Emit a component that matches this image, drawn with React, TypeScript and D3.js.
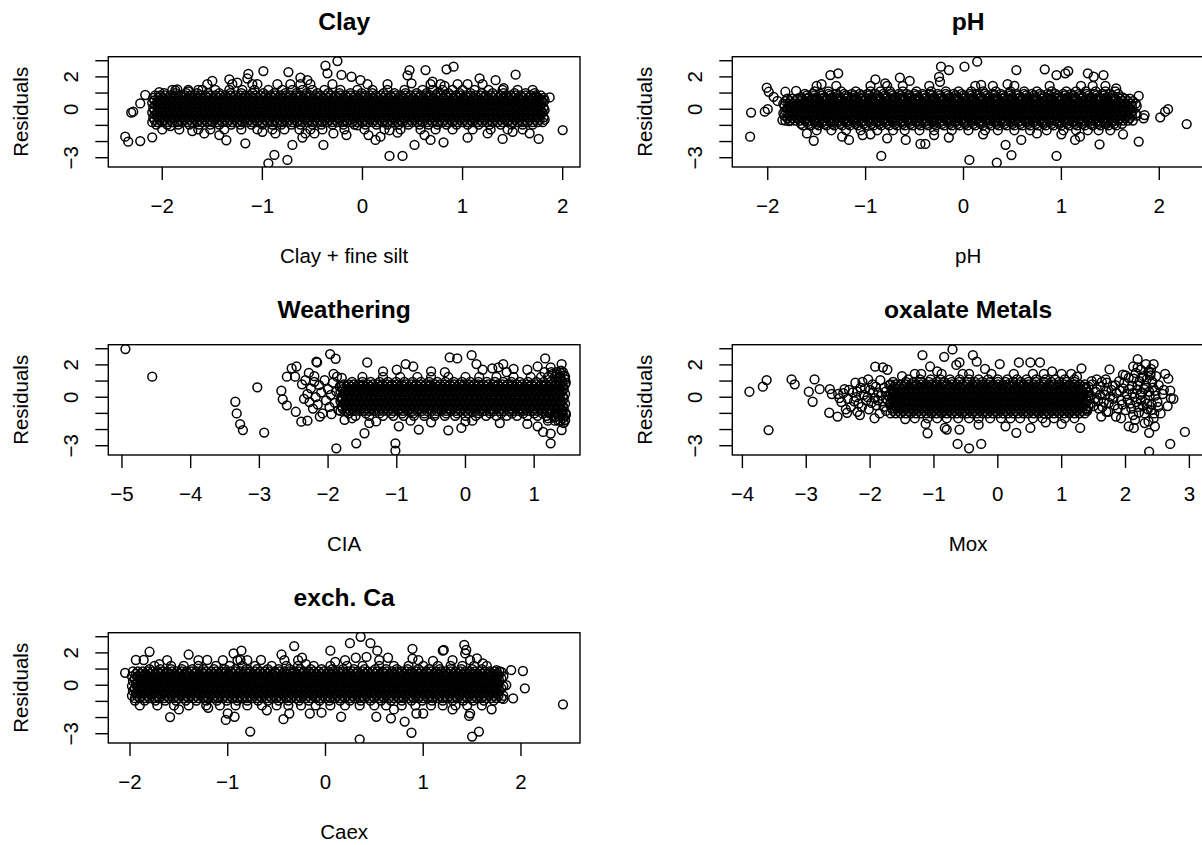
import React from "react";
import * as d3 from "d3";

type Pt = [number, number];
const pairs = (s: string): Pt[] =>
  s.trim().split(/\s+/).map((p) => {
    const [a, b] = p.split(",").map(Number);
    return [a, b] as Pt;
  });
const rows = (r: [number, string][]): Pt[] =>
  r.flatMap(([y, xs]) => xs.trim().split(/\s+/).map((x) => [Number(x), y] as Pt));

// ---------- axis ticks ----------
const yTicks = [-3, -2, -1, 0, 1, 2, 3];
const yTickLabels = [-3, 0, 2];
const clayTicks = [-2, -1, 0, 1, 2];
const phTicks = [-2, -1, 0, 1, 2];
const ciaTicks = [-5, -4, -3, -2, -1, 0, 1];
const moxTicks = [-4, -3, -2, -1, 0, 1, 2, 3];
const caexTicks = [-2, -1, 0, 1, 2];

// ---------- Clay ----------
const clayOutliers = pairs(`
-2.37,-1.70 -2.34,-2.01 -2.22,-1.97 -2.10,-1.74 -2.31,-0.21 -2.29,-0.15 -2.22,0.36 -2.17,0.88 -2.03,1.05 -1.85,1.23
-1.92,-1.04 -1.17,-2.11 -1.36,-1.92 -0.99,2.36 -1.14,2.18 -0.94,-3.35 -0.88,-2.83 -0.75,-3.14 -0.70,-2.21 -0.74,2.30
-0.37,2.69 -0.25,2.98 -0.35,2.22 -0.21,2.12 -0.11,2.01 -0.39,-2.21 -0.29,-1.50 -0.02,1.80 0.27,-2.89 0.40,-2.89
0.52,-2.21 0.47,2.42 0.45,2.10 0.63,2.42 0.84,2.47 0.91,2.63 0.49,1.60 1.17,1.91 1.33,1.80 1.53,2.14 1.87,0.73
2.00,-1.29 1.76,-1.84 1.67,-1.49 1.40,-1.84 1.05,-1.76 0.81,-2.05 0.68,-1.90 1.74,0.77 1.79,0.57 1.79,-0.20 1.65,0.35
1.41,1.30 0.06,-1.60 0.13,-1.90 0.18,-1.70 0.27,-1.30 -0.16,-1.60 -0.05,-1.00 -1.33,1.85 -1.50,1.75 -1.64,1.20
-1.87,1.17 -1.74,1.10 -1.15,1.90 -1.58,-1.50 -1.43,-1.60 -0.87,-1.50 -0.57,-1.50 -0.48,-1.50 -0.62,1.95 -0.55,1.80
-1.25,1.65 -1.05,1.55 0.70,1.70 0.82,1.45 1.05,1.55 -1.70,-1.35 -1.00,-1.40 -0.60,-1.75 0.35,-1.45 0.62,-1.60
1.25,-1.50 1.50,-1.40
`);
const clayA = "-2.1 -2.05 -2 -1.95 -1.9 -1.85 -1.8 -1.75 -1.7 -1.65 -1.6 -1.55 -1.5 -1.45 -1.4 -1.35 -1.3 -1.25 -1.2 -1.15 -1.1 -1.05 -1 -0.95 -0.9 -0.85 -0.8 -0.75 -0.7 -0.65 -0.6 -0.55 -0.5 -0.45 -0.4 -0.35 -0.3 -0.25 -0.2 -0.15 -0.1 -0.05 0 0.05 0.1 0.15 0.2 0.25 0.3 0.35 0.4 0.45 0.5 0.55 0.6 0.65 0.7 0.75 0.8 0.85 0.9 0.95 1 1.05 1.1 1.15 1.2 1.25 1.3 1.35 1.4 1.45 1.5 1.55 1.6 1.65 1.7 1.75 1.8";
const clayB = "-2.08 -2.03 -1.98 -1.93 -1.88 -1.83 -1.78 -1.73 -1.68 -1.63 -1.58 -1.53 -1.48 -1.43 -1.38 -1.33 -1.28 -1.23 -1.18 -1.13 -1.08 -1.03 -0.98 -0.93 -0.88 -0.83 -0.78 -0.73 -0.68 -0.63 -0.58 -0.53 -0.48 -0.43 -0.38 -0.33 -0.28 -0.23 -0.18 -0.13 -0.08 -0.03 0.02 0.07 0.12 0.17 0.22 0.27 0.32 0.37 0.42 0.47 0.52 0.57 0.62 0.67 0.72 0.77 0.82 0.87 0.92 0.97 1.02 1.07 1.12 1.17 1.22 1.27 1.32 1.37 1.42 1.47 1.52 1.57 1.62 1.67 1.72 1.77 1.82";
const clayC = "-2.09 -2.04 -1.99 -1.94 -1.89 -1.84 -1.79 -1.74 -1.69 -1.64 -1.59 -1.54 -1.49 -1.44 -1.39 -1.34 -1.29 -1.24 -1.19 -1.14 -1.09 -1.04 -0.99 -0.94 -0.89 -0.84 -0.79 -0.74 -0.69 -0.64 -0.59 -0.54 -0.49 -0.44 -0.39 -0.34 -0.29 -0.24 -0.19 -0.14 -0.09 -0.04 0.01 0.06 0.11 0.16 0.21 0.26 0.31 0.36 0.41 0.46 0.51 0.56 0.61 0.66 0.71 0.76 0.81 0.86 0.91 0.96 1.01 1.06 1.11 1.16 1.21 1.26 1.31 1.36 1.41 1.46 1.51 1.56 1.61 1.66 1.71 1.76 1.81";
const clayD = "-2.07 -2.02 -1.97 -1.92 -1.87 -1.82 -1.77 -1.72 -1.67 -1.62 -1.57 -1.52 -1.47 -1.42 -1.37 -1.32 -1.27 -1.22 -1.17 -1.12 -1.07 -1.02 -0.97 -0.92 -0.87 -0.82 -0.77 -0.72 -0.67 -0.62 -0.57 -0.52 -0.47 -0.42 -0.37 -0.32 -0.27 -0.22 -0.17 -0.12 -0.07 -0.02 0.03 0.08 0.13 0.18 0.23 0.28 0.33 0.38 0.43 0.48 0.53 0.58 0.63 0.68 0.73 0.78 0.83 0.88 0.93 0.98 1.03 1.08 1.13 1.18 1.23 1.28 1.33 1.38 1.43 1.48 1.53 1.58 1.63 1.68 1.73 1.78";
const clayCore = rows([
  [-1.25, "-2.0 -1.83 -1.64 -1.52 -1.38 -1.21 -1.05 -0.9 -0.78 -0.63 -0.52 -0.4 -0.18 0.02 0.22 0.38 0.58 0.73 0.9 1.1 1.28 1.45 1.6"],
  [-0.95, "-2.06 -1.95 -1.84 -1.73 -1.63 -1.52 -1.43 -1.31 -1.22 -1.11 -1.0 -0.9 -0.81 -0.71 -0.62 -0.5 -0.41 -0.3 -0.19 -0.08 0.03 0.14 0.25 0.36 0.46 0.57 0.66 0.75 0.84 0.94 1.05 1.16 1.27 1.38 1.49 1.6 1.7"],
  [-0.8, clayA],
  [-0.65, clayB],
  [-0.5, clayC],
  [-0.35, clayD],
  [-0.2, clayA],
  [-0.05, clayB],
  [0.1, clayC],
  [0.25, clayD],
  [0.4, clayA],
  [0.55, clayB],
  [0.7, clayC],
  [0.85, clayD],
  [1.0, "-1.98 -1.87 -1.76 -1.65 -1.54 -1.43 -1.32 -1.21 -1.1 -0.99 -0.88 -0.77 -0.66 -0.56 -0.45 -0.34 -0.23 -0.12 -0.01 0.1 0.21 0.32 0.43 0.54 0.64 0.75 0.86 0.97 1.08 1.19 1.3 1.41 1.52 1.63 1.72"],
  [1.2, "-1.9 -1.74 -1.6 -1.47 -1.33 -1.2 -1.08 -0.94 -0.8 -0.7 -0.6 -0.5 -0.38 -0.22 -0.05 0.1 0.25 0.42 0.6 0.7 0.8 0.9 1.0 1.12 1.26 1.4 1.55 1.7"],
  [1.55, "-1.55 -1.3 -1.1 -0.85 -0.72 -0.62 -0.52 -0.3 0.05 0.25 0.68 0.78 0.95 1.2"],
]);

// ---------- pH ----------
const phOutliers = pairs(`
-2.17,-0.21 -2.18,-1.70 -2.01,1.33 -1.99,1.08 -2.03,-0.15 -2.00,0.00 -1.90,0.51 -1.94,0.77 -1.82,1.08 -1.71,1.14
-1.85,-0.67 -1.78,-0.73 -1.53,-1.95 -1.36,2.11 -1.28,2.22 -1.24,-1.70 -1.17,-1.90 -1.03,-1.60 -0.84,-2.89 -0.78,-1.80
-0.59,-1.90 -0.44,-2.15 -0.39,-2.15 -0.23,2.63 -0.15,2.42 -0.25,2.00 -0.24,1.70 0.01,2.63 0.14,2.94 0.06,-3.14
0.34,-3.31 0.49,-2.84 0.43,-2.20 0.59,-1.90 0.54,2.42 0.83,2.47 0.95,2.11 1.04,2.22 1.07,2.36 1.27,2.22 1.33,2.01
1.43,2.11 0.95,-2.89 1.39,-2.17 1.14,-1.90 1.19,-1.70 1.63,-1.55 1.79,-2.00 1.79,0.82 1.85,-0.36 1.84,-0.56 2.01,-0.50
2.06,-0.15 2.09,0.00 2.28,-0.92 1.56,1.29 -0.90,1.85 -0.65,1.95 -0.55,1.75 -0.80,1.60 0.18,1.50 0.45,1.55 -1.45,1.55
-1.60,-1.50 -0.95,-1.55 -0.30,-1.60 0.20,-1.55 0.75,-1.50 1.00,-1.55 -0.15,-1.75
`);
const phA = "-1.8 -1.75 -1.7 -1.65 -1.6 -1.55 -1.5 -1.45 -1.4 -1.35 -1.3 -1.25 -1.2 -1.15 -1.1 -1.05 -1 -0.95 -0.9 -0.85 -0.8 -0.75 -0.7 -0.65 -0.6 -0.55 -0.5 -0.45 -0.4 -0.35 -0.3 -0.25 -0.2 -0.15 -0.1 -0.05 0 0.05 0.1 0.15 0.2 0.25 0.3 0.35 0.4 0.45 0.5 0.55 0.6 0.65 0.7 0.75 0.8 0.85 0.9 0.95 1 1.05 1.1 1.15 1.2 1.25 1.3 1.35 1.4 1.45 1.5 1.55 1.6 1.65 1.7";
const phB = "-1.83 -1.78 -1.73 -1.68 -1.63 -1.58 -1.53 -1.48 -1.43 -1.38 -1.33 -1.28 -1.23 -1.18 -1.13 -1.08 -1.03 -0.98 -0.93 -0.88 -0.83 -0.78 -0.73 -0.68 -0.63 -0.58 -0.53 -0.48 -0.43 -0.38 -0.33 -0.28 -0.23 -0.18 -0.13 -0.08 -0.03 0.02 0.07 0.12 0.17 0.22 0.27 0.32 0.37 0.42 0.47 0.52 0.57 0.62 0.67 0.72 0.77 0.82 0.87 0.92 0.97 1.02 1.07 1.12 1.17 1.22 1.27 1.32 1.37 1.42 1.47 1.52 1.57 1.62 1.67 1.72 1.77";
const phC = "-1.84 -1.79 -1.74 -1.69 -1.64 -1.59 -1.54 -1.49 -1.44 -1.39 -1.34 -1.29 -1.24 -1.19 -1.14 -1.09 -1.04 -0.99 -0.94 -0.89 -0.84 -0.79 -0.74 -0.69 -0.64 -0.59 -0.54 -0.49 -0.44 -0.39 -0.34 -0.29 -0.24 -0.19 -0.14 -0.09 -0.04 0.01 0.06 0.11 0.16 0.21 0.26 0.31 0.36 0.41 0.46 0.51 0.56 0.61 0.66 0.71 0.76 0.81 0.86 0.91 0.96 1.01 1.06 1.11 1.16 1.21 1.26 1.31 1.36 1.41 1.46 1.51 1.56 1.61 1.66 1.71 1.76";
const phD = "-1.82 -1.77 -1.72 -1.67 -1.62 -1.57 -1.52 -1.47 -1.42 -1.37 -1.32 -1.27 -1.22 -1.17 -1.12 -1.07 -1.02 -0.97 -0.92 -0.87 -0.82 -0.77 -0.72 -0.67 -0.62 -0.57 -0.52 -0.47 -0.42 -0.37 -0.32 -0.27 -0.22 -0.17 -0.12 -0.07 -0.02 0.03 0.08 0.13 0.18 0.23 0.28 0.33 0.38 0.43 0.48 0.53 0.58 0.63 0.68 0.73 0.78 0.83 0.88 0.93 0.98 1.03 1.08 1.13 1.18 1.23 1.28 1.33 1.38 1.43 1.48 1.53 1.58 1.63 1.68 1.73";
const phAt = "-1.64 -1.56 -1.48 -1.4 -1.32 -1.24 -1.16 -1.08 -1 -0.92 -0.84 -0.76 -0.68 -0.6 -0.52 -0.44 -0.36 -0.28 -0.2 -0.12 -0.04 0.04 0.12 0.2 0.28 0.36 0.44 0.52 0.6 0.68 0.76 0.84 0.92 1 1.08 1.16 1.24 1.32 1.4 1.48 1.56";
const phBt = "-1.6 -1.52 -1.44 -1.36 -1.28 -1.2 -1.12 -1.04 -0.96 -0.88 -0.8 -0.72 -0.64 -0.56 -0.48 -0.4 -0.32 -0.24 -0.16 -0.08 0 0.08 0.16 0.24 0.32 0.4 0.48 0.56 0.64 0.72 0.8 0.88 0.96 1.04 1.12 1.2 1.28 1.36 1.44 1.52";
const phCt = "-1.66 -1.58 -1.5 -1.42 -1.34 -1.26 -1.18 -1.1 -1.02 -0.94 -0.86 -0.78 -0.7 -0.62 -0.54 -0.46 -0.38 -0.3 -0.22 -0.14 -0.06 0.02 0.1 0.18 0.26 0.34 0.42 0.5 0.58 0.66 0.74 0.82 0.9 0.98 1.06 1.14 1.22 1.3 1.38 1.46 1.54 1.62";
const phDt = "-1.62 -1.54 -1.46 -1.38 -1.3 -1.22 -1.14 -1.06 -0.98 -0.9 -0.82 -0.74 -0.66 -0.58 -0.5 -0.42 -0.34 -0.26 -0.18 -0.1 -0.02 0.06 0.14 0.22 0.3 0.38 0.46 0.54 0.62 0.7 0.78 0.86 0.94 1.02 1.1 1.18 1.26 1.34 1.42 1.5 1.58";
const phCore = rows([
  [-1.3, "-1.5 -1.35 -1.2 -1.05 -0.88 -0.72 -0.6 -0.45 -0.3 -0.12 0.05 0.22 0.35 0.52 0.68 0.85 1.02 1.15 1.27 1.38 1.5"],
  [-1.0, phAt],
  [-0.9, phCt],
  [-0.8, phBt],
  [-0.7, phD],
  [-0.55, phA],
  [-0.4, phB],
  [-0.25, phC],
  [-0.1, phD],
  [0.05, phA],
  [0.2, phB],
  [0.35, phC],
  [0.5, phD],
  [0.65, phA],
  [0.75, phCt],
  [0.85, phBt],
  [0.95, phDt],
  [1.1, "-1.52 -1.38 -1.25 -1.1 -0.95 -0.85 -0.75 -0.62 -0.48 -0.33 -0.18 -0.05 0.08 0.2 0.33 0.48 0.62 0.75 0.9 1.05 1.15 1.25 1.35 1.45 1.55"],
  [1.45, "-1.5 -1.3 -0.95 -0.78 -0.62 -0.35 0.12 0.3 0.52 0.88 1.2 1.32 1.45"],
]);

// ---------- CIA ----------
const ciaOutliers = pairs(`
-4.95,2.98 -4.56,1.27 -3.35,-0.28 -3.33,-1.00 -3.28,-1.66 -3.24,-2.03 -3.03,0.61 -2.93,-2.19 -2.68,0.40 -2.66,-0.13
-2.60,-0.50 -2.53,1.79 -2.60,1.27 -2.46,1.90 -2.48,1.27 -2.47,-0.90 -2.39,-1.51 -2.30,-1.45 -2.16,2.15 -2.17,2.20
-1.97,2.67 -1.89,2.38 -1.43,2.15 -1.87,1.27 -1.76,-1.40 -1.47,-2.23 -1.59,-2.85 -1.88,-3.16 -1.02,-2.85 -1.02,-3.31
-0.97,-1.80 -0.76,1.90 -0.87,2.05 -0.68,-2.00 -0.23,2.46 -0.12,2.40 0.09,2.60 0.16,2.05 -0.25,-2.05 -0.06,-1.90
0.39,1.79 0.48,1.85 0.55,2.05 1.16,2.40 1.40,2.05 1.24,1.85 1.24,-2.85 1.40,-2.03 1.24,-2.25 1.13,-2.15
-1.20,1.60 -1.00,1.70 -0.50,1.60 0.25,1.70 0.70,1.75 0.90,1.70 1.05,1.90 -1.30,-1.50 -0.50,-1.55 0.00,-1.50
0.50,-1.60 0.90,-1.65 1.05,-1.80 -1.65,-1.30 -1.40,-1.60
-2.38,0.8 -2.33,1.05 -2.3,0.2 -2.27,-0.3 -2.25,0.55 -2.22,-0.7 -2.2,1.3 -2.18,0.0 -2.15,-0.45 -2.13,0.75
-2.1,0.3 -2.08,-1.0 -2.05,1.05 -2.03,-0.2 -2.0,0.5 -1.98,-0.6 -1.96,0.15 -1.93,0.9 -1.9,-0.35 -1.88,0.35
-1.85,-0.8 -1.83,0.65 -1.81,-0.1 -1.8,1.2 -2.35,-0.1 -2.12,-1.2 -1.95,-1.05 -2.28,1.5 -1.92,1.45 -2.2,0.95
1.42,-1.3 1.44,1.35 1.4,-1.0 1.45,1.1 1.38,1.5 1.43,-1.6 1.46,0.9 1.41,-0.8 1.36,1.2 1.3,-1.25
1.33,1.4 1.46,-1.1 1.45,-1.4 1.39,1.65 1.35,-1.45 1.27,1.45 1.2,-1.3
`);
const ciaA = "-1.82 -1.75 -1.68 -1.61 -1.54 -1.47 -1.4 -1.33 -1.26 -1.19 -1.12 -1.05 -0.98 -0.91 -0.84 -0.77 -0.7 -0.63 -0.56 -0.49 -0.42 -0.35 -0.28 -0.21 -0.14 -0.07 0 0.07 0.14 0.21 0.28 0.35 0.42 0.49 0.56 0.63 0.7 0.77 0.84 0.91 0.98 1.05 1.12 1.19 1.26 1.33 1.4";
const ciaB = "-1.79 -1.72 -1.65 -1.58 -1.51 -1.44 -1.37 -1.3 -1.23 -1.16 -1.09 -1.02 -0.95 -0.88 -0.81 -0.74 -0.67 -0.6 -0.53 -0.46 -0.39 -0.32 -0.25 -0.18 -0.11 -0.04 0.03 0.1 0.17 0.24 0.31 0.38 0.45 0.52 0.59 0.66 0.73 0.8 0.87 0.94 1.01 1.08 1.15 1.22 1.29 1.36 1.43";
const ciaC = "-1.8 -1.73 -1.66 -1.59 -1.52 -1.45 -1.38 -1.31 -1.24 -1.17 -1.1 -1.03 -0.96 -0.89 -0.82 -0.75 -0.68 -0.61 -0.54 -0.47 -0.4 -0.33 -0.26 -0.19 -0.12 -0.05 0.02 0.09 0.16 0.23 0.3 0.37 0.44 0.51 0.58 0.65 0.72 0.79 0.86 0.93 1 1.07 1.14 1.21 1.28 1.35 1.42";
const ciaD = "-1.77 -1.7 -1.63 -1.56 -1.49 -1.42 -1.35 -1.28 -1.21 -1.14 -1.07 -1 -0.93 -0.86 -0.79 -0.72 -0.65 -0.58 -0.51 -0.44 -0.37 -0.3 -0.23 -0.16 -0.09 -0.02 0.05 0.12 0.19 0.26 0.33 0.4 0.47 0.54 0.61 0.68 0.75 0.82 0.89 0.96 1.03 1.1 1.17 1.24 1.31 1.38 1.45";
const ciaCore = rows([
  [-1.45, "-0.8 0.1 1.2 1.3 1.38 1.45"],
  [-1.15, "-1.6 -1.4 -1.2 -1.05 -0.9 -0.75 -0.6 -0.45 -0.3 -0.15 0.0 0.15 0.3 0.45 0.6 0.75 0.9 1.05 1.18 1.28 1.36 1.43"],
  [-1.0, "-1.7 -1.45 -1.25 -1.08 -0.92 -0.76 -0.6 -0.44 -0.28 -0.12 0.04 0.2 0.36 0.52 0.68 0.84 1.0 1.12 1.22 1.32 1.4 1.46"],
  [-0.85, ciaA],
  [-0.7, ciaB],
  [-0.55, ciaC],
  [-0.4, ciaD],
  [-0.25, ciaA],
  [-0.1, ciaB],
  [0.05, ciaC],
  [0.2, ciaD],
  [0.35, ciaA],
  [0.5, ciaB],
  [0.65, ciaC],
  [0.8, ciaD],
  [0.95, "-1.65 -1.5 -1.38 -1.25 -1.13 -1.01 -0.89 -0.77 -0.65 -0.53 -0.41 -0.29 -0.17 -0.05 0.07 0.19 0.31 0.43 0.55 0.67 0.79 0.91 1.03 1.14 1.24 1.33 1.41"],
  [1.25, "-1.5 -1.2 -0.95 -0.7 -0.5 -0.25 0.0 0.2 0.45 0.7 0.95 1.1 1.2 1.3 1.38 1.45"],
  [1.55, "-0.3 0.6 1.15 1.25 1.33 1.42"],
]);

// ---------- Mox ----------
const moxOutliers = pairs(`
-3.89,0.34 -3.68,0.65 -3.62,1.06 -3.59,-2.03 -3.23,1.10 -3.18,0.80 -2.96,0.34 -2.87,1.10 -2.90,-0.28 -2.79,0.50
-2.63,0.50 -2.60,0.20 -2.64,-0.96 -2.51,-1.20 -2.36,-0.96 -2.16,-1.10 -1.93,-1.30 -2.23,0.90 -2.03,1.10 -1.92,1.89
-1.80,1.85 -1.73,1.70 -1.18,2.61 -1.06,1.90 -1.13,-1.65 -1.10,-2.23 -0.83,-1.90 -0.80,-2.00 -0.84,2.50 -0.71,2.96
-0.60,2.15 -0.65,2.00 -0.63,-2.89 -0.45,-3.16 -0.26,-2.89 -0.60,-2.00 -0.39,2.60 -0.33,2.20 0.03,2.05 0.33,2.15
0.51,2.15 0.66,2.15 0.12,-1.80 0.29,-2.20 0.51,-1.90 1.00,-1.65 1.29,-1.90 1.31,1.79 1.24,1.27 1.75,1.72
1.69,1.10 1.96,1.40 2.19,2.35 2.19,1.85 2.32,2.05 2.44,2.05 2.39,1.50 2.67,1.15 2.60,0.45 2.71,-0.05
2.51,-0.60 2.37,-2.20 2.37,-3.37 2.70,-2.89 2.93,-2.15 2.05,-1.80 2.13,-1.90 1.93,-1.30 1.62,-1.20 1.70,-0.90
-1.50,1.30 -1.30,1.45 -0.95,1.60 -0.20,1.75 0.85,1.60 -1.45,-1.35 -0.30,-1.70 0.75,-1.55
-2.5,0.2 -2.45,-0.3 -2.4,0.5 -2.35,-0.1 -2.3,-0.6 -2.27,0.3 -2.22,0.0 -2.18,-0.4 -2.15,0.6 -2.1,0.15
-2.06,-0.2 -2.02,-0.75 -2.0,0.45 -1.96,0.8 -1.93,-0.05 -1.9,-0.5 -1.87,0.3 -1.84,1.05 -1.81,-0.25 -1.78,0.6
-1.75,-0.85 -1.72,0.1 -1.69,-0.45 -1.66,0.4 -1.64,0.95 -1.62,-0.15 -2.2,-0.9 -1.85,-1.0 -2.38,-0.75 -2.12,0.95
-2.48,-0.05 -2.42,0.25 -2.33,0.45 -2.25,-0.25 -2.2,0.35 -2.13,-0.6 -2.08,0.55 -2.04,0.0 -1.98,-0.35 -1.95,0.3
-1.91,0.65 -1.88,-0.2 -1.83,0.1 -1.79,-0.6 -1.76,0.35 -1.73,-0.15 -1.7,0.75 -1.67,-0.3 -1.64,0.2
1.42,0.3 1.45,-0.4 1.48,0.8 1.52,-0.1 1.55,0.5 1.58,-0.7 1.6,0.15 1.63,0.95 1.66,-0.3 1.7,0.4
1.73,-0.9 1.76,0.05 1.8,0.7 1.83,-0.5 1.86,0.25 1.9,1.0 1.93,-0.2 1.96,0.55 2.0,-0.8 2.02,0.2
2.05,1.2 2.07,-0.4 2.1,0.7 2.12,-1.1 2.14,0.0 2.16,1.5 2.18,0.45 2.2,-0.6 2.22,1.0 2.24,-0.2
2.26,0.3 2.28,1.3 2.3,-1.0 2.32,0.7 2.34,-0.4 2.36,1.6 2.38,0.1 2.4,-0.8 2.42,0.95 2.44,-1.3
2.46,0.4 2.48,1.3 2.5,-0.3 2.52,0.75 2.55,-1.0 2.58,0.2 2.62,1.45 2.66,-0.55 2.7,0.4 2.75,-0.1
2.24,1.7 2.3,-1.6 2.4,1.75 2.36,-1.5 2.15,-1.4 2.0,1.35 1.85,-1.2 1.55,1.1 2.46,-1.8 2.12,1.9
1.38,0.6 1.4,-0.75 1.44,0.05 1.47,1.0 1.5,-0.55 1.53,0.35 1.57,-0.25 1.61,0.65 1.64,-0.6 1.68,0.15
1.71,0.9 1.74,-0.35 1.78,0.45 1.81,-0.1 1.84,0.75 1.88,-0.7 1.91,0.4 1.95,-0.45 1.98,0.9 2.03,-0.15
2.06,0.5 2.09,-0.7 2.11,0.25 2.13,1.15 2.17,-0.3 2.19,0.75 2.21,-0.95 2.23,0.15 2.25,1.2 2.27,-0.55
2.29,0.5 2.31,-0.15 2.33,1.1 2.35,-0.75 2.37,0.35 2.39,1.35 2.41,-0.45 2.43,0.6 2.45,-1.0 2.47,0.1
`);
const moxA = "-1.68 -1.6 -1.52 -1.44 -1.36 -1.28 -1.2 -1.12 -1.04 -0.96 -0.88 -0.8 -0.72 -0.64 -0.56 -0.48 -0.4 -0.32 -0.24 -0.16 -0.08 0 0.08 0.16 0.24 0.32 0.4 0.48 0.56 0.64 0.72 0.8 0.88 0.96 1.04 1.12 1.2 1.28 1.36";
const moxB = "-1.64 -1.56 -1.48 -1.4 -1.32 -1.24 -1.16 -1.08 -1 -0.92 -0.84 -0.76 -0.68 -0.6 -0.52 -0.44 -0.36 -0.28 -0.2 -0.12 -0.04 0.04 0.12 0.2 0.28 0.36 0.44 0.52 0.6 0.68 0.76 0.84 0.92 1 1.08 1.16 1.24 1.32 1.4";
const moxC = "-1.66 -1.58 -1.5 -1.42 -1.34 -1.26 -1.18 -1.1 -1.02 -0.94 -0.86 -0.78 -0.7 -0.62 -0.54 -0.46 -0.38 -0.3 -0.22 -0.14 -0.06 0.02 0.1 0.18 0.26 0.34 0.42 0.5 0.58 0.66 0.74 0.82 0.9 0.98 1.06 1.14 1.22 1.3 1.38";
const moxD = "-1.62 -1.54 -1.46 -1.38 -1.3 -1.22 -1.14 -1.06 -0.98 -0.9 -0.82 -0.74 -0.66 -0.58 -0.5 -0.42 -0.34 -0.26 -0.18 -0.1 -0.02 0.06 0.14 0.22 0.3 0.38 0.46 0.54 0.62 0.7 0.78 0.86 0.94 1.02 1.1 1.18 1.26 1.34 1.42";
const moxCore = rows([
  [-1.3, "-1.3 -1.1 -0.95 -0.8 -0.62 -0.45 -0.3 -0.12 0.05 0.2 0.35 0.55 0.7 0.88 1.05 1.2"],
  [-1.0, moxA],
  [-0.85, moxB],
  [-0.7, moxC],
  [-0.55, moxD],
  [-0.4, moxA],
  [-0.25, moxB],
  [-0.1, moxC],
  [0.05, moxD],
  [0.2, moxA],
  [0.35, moxB],
  [0.5, moxC],
  [0.65, moxD],
  [0.8, moxA],
  [0.95, "-1.44 -1.32 -1.2 -1.08 -0.96 -0.84 -0.72 -0.6 -0.48 -0.36 -0.24 -0.12 0.0 0.12 0.24 0.36 0.48 0.6 0.72 0.84 0.96 1.08 1.2"],
  [1.1, "-1.4 -1.22 -1.05 -0.9 -0.75 -0.6 -0.45 -0.3 -0.15 0.0 0.15 0.3 0.45 0.6 0.75 0.9 1.05 1.2"],
  [1.45, "-1.2 -0.88 -0.55 -0.45 -0.1 0.25 0.55 0.72 1.0 1.15"],
]);

// ---------- Caex ----------
const caexOutliers = pairs(`
-2.05,0.77 -1.94,1.56 -1.86,1.56 -1.80,2.07 -1.59,-1.97 -1.40,1.90 -1.21,1.56 -1.02,-2.15 -1.00,-1.75 -0.93,-1.95
-0.94,1.97 -0.86,2.14 -0.87,1.56 -0.77,-2.87 -0.66,1.56 -0.45,1.90 -0.43,-2.10 -0.37,-1.75 -0.32,2.42 -0.24,1.70
-0.16,-1.75 -0.04,-1.70 0.05,2.14 0.16,-1.95 0.25,2.60 0.36,3.00 0.46,2.60 0.35,-3.35 0.31,1.70 0.42,1.75
0.53,2.14 0.52,-1.95 0.64,1.70 0.67,-2.05 0.81,-2.25 0.88,-2.94 0.89,2.25 0.89,1.65 0.93,-1.75 1.00,-1.75
1.20,2.14 1.42,2.49 1.44,2.18 1.43,1.97 1.21,2.18 1.47,-1.90 1.48,-1.74 1.50,-3.18 1.57,-2.87 1.55,1.66
1.61,1.35 1.70,-1.49 1.75,0.94 1.80,0.83 1.85,0.01 1.90,0.94 1.92,-0.81 1.82,-0.85 2.02,0.88 2.04,-0.19
2.43,-1.18 -1.70,1.30 -1.50,-1.50 -1.20,-1.40 -0.60,-1.55 0.10,1.45 0.70,-1.50 1.30,-1.50 1.10,1.50 -0.20,1.30
`);
const caexA = "-1.95 -1.9 -1.85 -1.8 -1.75 -1.7 -1.65 -1.6 -1.55 -1.5 -1.45 -1.4 -1.35 -1.3 -1.25 -1.2 -1.15 -1.1 -1.05 -1 -0.95 -0.9 -0.85 -0.8 -0.75 -0.7 -0.65 -0.6 -0.55 -0.5 -0.45 -0.4 -0.35 -0.3 -0.25 -0.2 -0.15 -0.1 -0.05 0 0.05 0.1 0.15 0.2 0.25 0.3 0.35 0.4 0.45 0.5 0.55 0.6 0.65 0.7 0.75 0.8 0.85 0.9 0.95 1 1.05 1.1 1.15 1.2 1.25 1.3 1.35 1.4 1.45 1.5 1.55 1.6 1.65 1.7 1.75 1.8";
const caexB = "-1.98 -1.93 -1.88 -1.83 -1.78 -1.73 -1.68 -1.63 -1.58 -1.53 -1.48 -1.43 -1.38 -1.33 -1.28 -1.23 -1.18 -1.13 -1.08 -1.03 -0.98 -0.93 -0.88 -0.83 -0.78 -0.73 -0.68 -0.63 -0.58 -0.53 -0.48 -0.43 -0.38 -0.33 -0.28 -0.23 -0.18 -0.13 -0.08 -0.03 0.02 0.07 0.12 0.17 0.22 0.27 0.32 0.37 0.42 0.47 0.52 0.57 0.62 0.67 0.72 0.77 0.82 0.87 0.92 0.97 1.02 1.07 1.12 1.17 1.22 1.27 1.32 1.37 1.42 1.47 1.52 1.57 1.62 1.67 1.72 1.77 1.82";
const caexC = "-1.94 -1.89 -1.84 -1.79 -1.74 -1.69 -1.64 -1.59 -1.54 -1.49 -1.44 -1.39 -1.34 -1.29 -1.24 -1.19 -1.14 -1.09 -1.04 -0.99 -0.94 -0.89 -0.84 -0.79 -0.74 -0.69 -0.64 -0.59 -0.54 -0.49 -0.44 -0.39 -0.34 -0.29 -0.24 -0.19 -0.14 -0.09 -0.04 0.01 0.06 0.11 0.16 0.21 0.26 0.31 0.36 0.41 0.46 0.51 0.56 0.61 0.66 0.71 0.76 0.81 0.86 0.91 0.96 1.01 1.06 1.11 1.16 1.21 1.26 1.31 1.36 1.41 1.46 1.51 1.56 1.61 1.66 1.71 1.76";
const caexD = "-1.97 -1.92 -1.87 -1.82 -1.77 -1.72 -1.67 -1.62 -1.57 -1.52 -1.47 -1.42 -1.37 -1.32 -1.27 -1.22 -1.17 -1.12 -1.07 -1.02 -0.97 -0.92 -0.87 -0.82 -0.77 -0.72 -0.67 -0.62 -0.57 -0.52 -0.47 -0.42 -0.37 -0.32 -0.27 -0.22 -0.17 -0.12 -0.07 -0.02 0.03 0.08 0.13 0.18 0.23 0.28 0.33 0.38 0.43 0.48 0.53 0.58 0.63 0.68 0.73 0.78 0.83 0.88 0.93 0.98 1.03 1.08 1.13 1.18 1.23 1.28 1.33 1.38 1.43 1.48 1.53 1.58 1.63 1.68 1.73 1.78";
const caexCore = rows([
  [-1.25, "-1.9 -1.72 -1.55 -1.4 -1.22 -1.08 -0.92 -0.8 -0.65 -0.5 -0.38 -0.25 -0.1 0.05 0.2 0.35 0.5 0.62 0.78 0.92 1.08 1.2 1.33 1.45 1.6"],
  [-0.95, "-1.95 -1.85 -1.74 -1.64 -1.53 -1.43 -1.32 -1.22 -1.11 -1.01 -0.9 -0.8 -0.69 -0.59 -0.48 -0.38 -0.27 -0.17 -0.06 0.04 0.15 0.25 0.36 0.46 0.57 0.67 0.78 0.88 0.99 1.09 1.2 1.3 1.41 1.51 1.62 1.72"],
  [-0.8, caexA],
  [-0.65, caexB],
  [-0.5, caexC],
  [-0.35, caexD],
  [-0.2, caexA],
  [-0.05, caexB],
  [0.1, caexC],
  [0.25, caexD],
  [0.4, caexA],
  [0.55, caexB],
  [0.7, caexC],
  [0.85, caexD],
  [1.0, "-1.8 -1.69 -1.58 -1.47 -1.36 -1.25 -1.14 -1.03 -0.92 -0.81 -0.7 -0.59 -0.48 -0.37 -0.26 -0.15 -0.04 0.07 0.18 0.29 0.4 0.51 0.62 0.73 0.84 0.95 1.06 1.17 1.28 1.39 1.5 1.6"],
  [1.2, "-1.75 -1.58 -1.45 -1.3 -1.12 -0.98 -0.85 -0.72 -0.55 -0.4 -0.28 -0.12 0.05 0.22 0.38 0.55 0.7 0.85 1.0 1.15 1.28 1.4 1.52 1.65"],
  [1.55, "-1.62 -1.3 -1.05 -0.9 -0.8 -0.42 -0.28 0.2 0.55 0.95 1.3 1.48"],
]);

// ---------- layout ----------
const CELL_W = 624;
const CELL_H = 288;
const BOX = { l: 108.3, r: 580, t: 56.7, b: 167 };
const Y_DOMAIN: [number, number] = [-3.575, 3.25];
const FONT = "'Liberation Sans', Arial, Helvetica, sans-serif";
const FS = 20.5;

const panels = [
  { title: "Clay", xlab: "Clay + fine silt", ticks: clayTicks, dom: [-2.539, 2.173], pts: [...clayCore, ...clayOutliers], col: 0, row: 0 },
  { title: "pH", xlab: "pH", ticks: phTicks, dom: [-2.362, 2.457], pts: [...phCore, ...phOutliers], col: 1, row: 0 },
  { title: "Weathering", xlab: "CIA", ticks: ciaTicks, dom: [-5.199, 1.667], pts: [...ciaCore, ...ciaOutliers], col: 0, row: 1 },
  { title: "oxalate Metals", xlab: "Mox", ticks: moxTicks, dom: [-4.158, 3.229], pts: [...moxCore, ...moxOutliers], col: 1, row: 1 },
  { title: "exch. Ca", xlab: "Caex", ticks: caexTicks, dom: [-2.222, 2.604], pts: [...caexCore, ...caexOutliers], col: 0, row: 2 },
];

const fmt = (v: number) => (v < 0 ? "\u2212" + Math.abs(v) : String(v));

function Panel({ p, idx }: { p: (typeof panels)[number]; idx: number }) {
  const x = d3.scaleLinear().domain(p.dom).range([BOX.l, BOX.r]);
  const y = d3.scaleLinear().domain(Y_DOMAIN).range([BOX.b, BOX.t]);
  const cx = (BOX.l + BOX.r) / 2;
  const cy = (BOX.t + BOX.b) / 2;
  const clipId = `clip${idx}`;
  return (
    <g transform={`translate(${p.col * CELL_W},${p.row * CELL_H})`}>
      <defs>
        <clipPath id={clipId}>
          <rect x={BOX.l} y={BOX.t} width={BOX.r - BOX.l} height={BOX.b - BOX.t} />
        </clipPath>
      </defs>
      <text x={cx} y={30} textAnchor="middle" fontWeight="bold" fontSize={FS * 1.2}>
        {p.title}
      </text>
      <g clipPath={`url(#${clipId})`}>
        {p.pts.map((d, i) => (
          <circle key={i} cx={x(d[0])} cy={y(d[1])} r={4.4} fill="none" stroke="#000" strokeWidth={1.5} />
        ))}
      </g>
      <rect x={BOX.l} y={BOX.t} width={BOX.r - BOX.l} height={BOX.b - BOX.t} fill="none" stroke="#000" strokeWidth={1.4} />
      {p.ticks.map((t) => (
        <g key={t}>
          <line x1={x(t)} x2={x(t)} y1={BOX.b} y2={BOX.b + 13} stroke="#000" strokeWidth={1.4} />
          <text x={x(t)} y={213} textAnchor="middle" fontSize={FS}>
            {fmt(t)}
          </text>
        </g>
      ))}
      {yTicks.map((t) => (
        <line key={t} x1={BOX.l - 13} x2={BOX.l} y1={y(t)} y2={y(t)} stroke="#000" strokeWidth={1.4} />
      ))}
      {yTickLabels.map((t) => (
        <text key={t} transform={`translate(78.3,${y(t)}) rotate(-90)`} textAnchor="middle" fontSize={FS}>
          {fmt(t)}
        </text>
      ))}
      <text transform={`translate(28.3,${cy}) rotate(-90)`} textAnchor="middle" fontSize={FS}>
        Residuals
      </text>
      <text x={cx} y={263} textAnchor="middle" fontSize={FS}>
        {p.xlab}
      </text>
    </g>
  );
}

export default function App() {
  return (
    <svg
      width={1202}
      height={845}
      style={{ position: "absolute", left: 0, top: 0, background: "#fff" }}
      fontFamily={FONT}
    >
      <rect width={1202} height={845} fill="#fff" />
      {panels.map((p, i) => (
        <Panel key={p.title} p={p} idx={i} />
      ))}
    </svg>
  );
}
